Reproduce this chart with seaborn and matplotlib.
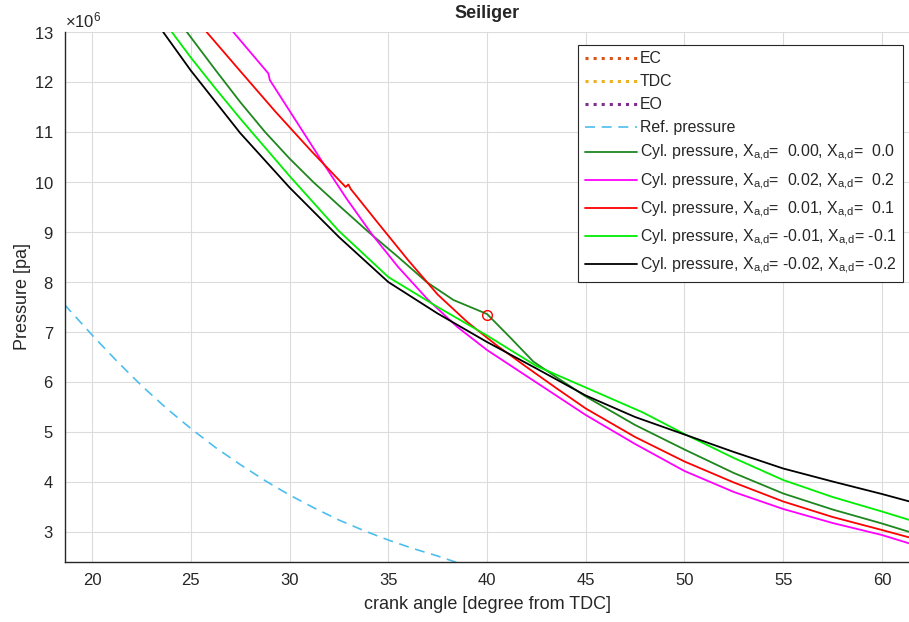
import numpy as np
import pandas as pd
import matplotlib
matplotlib.use("Agg")
import matplotlib.pyplot as plt
from matplotlib.lines import Line2D
from matplotlib.ticker import ScalarFormatter
import seaborn as sns

# ---- data (pressure in units of 1e6 Pa) ----
SCALE = 1e6

ref_angle = [18.6, 20.0, 21.25, 22.5, 23.75, 25.0, 26.25, 27.5, 28.75, 30.0, 31.25,
             32.5, 33.75, 35.0, 36.25, 37.5, 38.4, 39.5]
ref_press = [7.55, 6.94, 6.42, 5.93, 5.48, 5.07, 4.69, 4.35, 4.03, 3.74, 3.48,
             3.24, 3.03, 2.84, 2.67, 2.52, 2.4, 2.26]

dg_angle = [24.8, 26.25, 27.5, 28.76, 30.0, 31.2, 32.5, 34.0, 35.5, 36.94, 38.3, 40.0,
            41.2, 42.34, 43.5, 45.0, 47.5, 50.0, 52.5, 55.0, 57.5, 60.0, 61.4]
dg_press = [13.0, 12.24, 11.6, 11.0, 10.47, 10.0, 9.53, 9.0, 8.5, 8.0, 7.64, 7.36,
            6.88, 6.41, 6.1, 5.71, 5.14, 4.65, 4.18, 3.77, 3.45, 3.17, 3.0]

mg_angle = [27.15, 28.93, 29.0, 30.3, 31.6, 32.9, 34.2, 35.5, 37.0, 38.5, 40.0, 42.5,
            45.0, 47.5, 50.0, 52.5, 55.0, 57.5, 60.0, 61.4]
mg_press = [13.0, 12.17, 12.04, 11.24, 10.44, 9.66, 8.94, 8.3, 7.65, 7.1, 6.64, 5.99,
            5.34, 4.76, 4.22, 3.8, 3.46, 3.18, 2.94, 2.77]

rd_angle = [25.8, 27.5, 29.3, 31.1, 32.84, 32.98, 33.1, 34.5, 36.0, 37.5, 39.0, 40.5,
            42.0, 43.5, 45.0, 47.5, 50.0, 52.5, 55.0, 57.5, 60.0, 61.4]
rd_press = [13.0, 12.22, 11.4, 10.62, 9.9, 9.95, 9.86, 9.17, 8.44, 7.75, 7.2, 6.73,
            6.3, 5.88, 5.47, 4.9, 4.41, 3.99, 3.61, 3.3, 3.04, 2.89]

lm_angle = [24.04, 25.0, 26.25, 27.5, 30.0, 32.5, 35.0, 37.5, 40.0, 42.5, 45.0, 47.9,
            50.0, 52.5, 55.0, 57.5, 60.0, 61.4]
lm_press = [13.0, 12.49, 11.87, 11.27, 10.12, 9.02, 8.1, 7.5, 6.93, 6.32, 5.89, 5.39,
            4.96, 4.48, 4.04, 3.7, 3.41, 3.24]

bk_angle = [23.6, 25.0, 27.5, 30.0, 32.5, 35.0, 37.5, 40.0, 42.5, 45.0, 47.5, 50.0,
            52.5, 55.0, 57.5, 60.0, 61.4]
bk_press = [13.0, 12.23, 10.98, 9.89, 8.9, 8.0, 7.37, 6.8, 6.27, 5.73, 5.3, 4.95,
            4.6, 4.27, 4.01, 3.76, 3.61]

marker_angle = [40.0]
marker_press = [7.35]

xticks = [20, 25, 30, 35, 40, 45, 50, 55, 60]
yticks = [3, 4, 5, 6, 7, 8, 9, 10, 11, 12, 13]

sub = r"X$_{\mathrm{a{,}d}}$"
cyl_labels = [
    f"Cyl. pressure, {sub}=  0.00, {sub}=  0.0",
    f"Cyl. pressure, {sub}=  0.02, {sub}=  0.2",
    f"Cyl. pressure, {sub}=  0.01, {sub}=  0.1",
    f"Cyl. pressure, {sub}= -0.01, {sub}= -0.1",
    f"Cyl. pressure, {sub}= -0.02, {sub}= -0.2",
]
cyl_colors = ["#1e871e", "#ff00ff", "#ff0000", "#00ee00", "#000000"]
cyl_data = [(dg_angle, dg_press), (mg_angle, mg_press), (rd_angle, rd_press),
            (lm_angle, lm_press), (bk_angle, bk_press)]

# ---- style ----
sns.set_style("white")
plt.rcParams["font.family"] = ["Liberation Sans", "DejaVu Sans"]
plt.rcParams["mathtext.fontset"] = "custom"
plt.rcParams["mathtext.rm"] = "Liberation Sans"
plt.rcParams["mathtext.it"] = "Liberation Sans:italic"
plt.rcParams["mathtext.bf"] = "Liberation Sans:bold"

fig = plt.figure(figsize=(9.09, 6.22), dpi=100)
ax = fig.add_axes([65 / 909, 60 / 622, 844 / 909, 530 / 622])

# reference pressure
ref_df = pd.DataFrame({"angle": ref_angle, "p": np.array(ref_press) * SCALE})
sns.lineplot(data=ref_df, x="angle", y="p", ax=ax, color="#4dbeee",
             lw=1.2, estimator=None, sort=False)
ax.lines[-1].set_dashes((6, 4))

# cylinder pressure curves
for (xa, ya), col in zip(cyl_data, cyl_colors):
    df = pd.DataFrame({"angle": xa, "p": np.array(ya) * SCALE})
    sns.lineplot(data=df, x="angle", y="p", ax=ax, color=col, lw=1.3,
                 estimator=None, sort=False)

# marker
ax.plot(marker_angle, np.array(marker_press) * SCALE, "o", mfc="none",
        mec="#ff0000", ms=7, mew=1.0)

ax.set_xlim(18.63, 61.37)
ax.set_ylim(2.4e6, 13e6)
ax.set_xticks(xticks)
ax.set_yticks([v * SCALE for v in yticks])

fmt = ScalarFormatter(useMathText=True)
fmt.set_powerlimits((6, 6))
ax.yaxis.set_major_formatter(fmt)
ax.yaxis.get_offset_text().set_fontsize(12)
ax.yaxis.get_offset_text().set_color("#262626")

ax.grid(True, color="#dcdcdc", lw=0.8)
for s in ["top", "right"]:
    ax.spines[s].set_visible(False)
for s in ["left", "bottom"]:
    ax.spines[s].set_color("#262626")
    ax.spines[s].set_linewidth(1.0)
ax.tick_params(direction="in", length=6, width=0.8, colors="#262626",
               labelsize=12, labelcolor="#262626", pad=8)

ax.set_title("Seiliger", fontsize=13, fontweight="bold", pad=10)
ax.set_xlabel("crank angle [degree from TDC]", fontsize=13, color="#262626", labelpad=6)
ax.set_ylabel("Pressure [pa]", fontsize=13, color="#262626", labelpad=2)

# legend
handles = [
    Line2D([], [], color="#d95319", ls=":", lw=2.2),
    Line2D([], [], color="#edb120", ls=":", lw=2.2),
    Line2D([], [], color="#7e2f8e", ls=":", lw=2.2),
    Line2D([], [], color="#4dbeee", ls=(0, (6, 4)), lw=1.2),
] + [Line2D([], [], color=c, lw=1.3) for c in cyl_colors]
labels = ["EC", "TDC", "EO", "Ref. pressure"] + cyl_labels
leg = ax.legend(handles, labels, loc="upper right", bbox_to_anchor=(1 - 6 / 844, 1 - 13 / 530),
                fontsize=11.4, frameon=True, fancybox=False, framealpha=1,
                edgecolor="#262626", handlelength=3.3, handletextpad=0.2,
                labelspacing=0.5, borderpad=0.4, borderaxespad=0)
leg.get_frame().set_linewidth(0.8)

fig.savefig("out.png", dpi=100)
